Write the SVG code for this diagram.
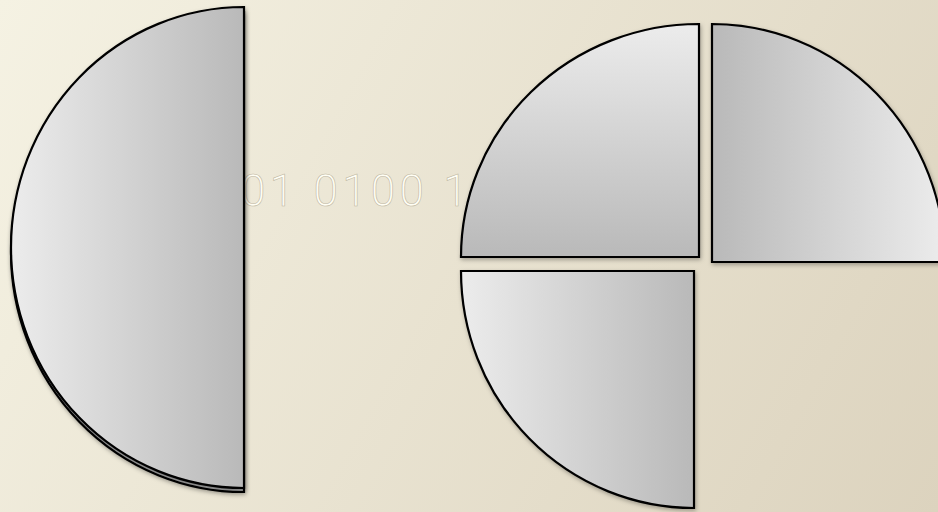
<svg xmlns="http://www.w3.org/2000/svg" width="938" height="512" viewBox="0 0 938 512">
  <defs>
    <linearGradient id="bg" x1="0" y1="0" x2="938" y2="512" gradientUnits="userSpaceOnUse">
      <stop offset="0" stop-color="#f5f2e3"/>
      <stop offset="1" stop-color="#dcd3be"/>
    </linearGradient>
    <linearGradient id="gLR" x1="0" y1="0" x2="1" y2="0">
      <stop offset="0" stop-color="#ececec"/>
      <stop offset="1" stop-color="#b9b9b9"/>
    </linearGradient>
    <linearGradient id="gRL" x1="0" y1="0" x2="1" y2="0">
      <stop offset="0" stop-color="#b9b9b9"/>
      <stop offset="1" stop-color="#ececec"/>
    </linearGradient>
    <linearGradient id="gTB" x1="0" y1="0" x2="0" y2="1">
      <stop offset="0" stop-color="#ececec"/>
      <stop offset="1" stop-color="#b9b9b9"/>
    </linearGradient>
    <filter id="sh" x="-10%" y="-10%" width="120%" height="120%">
      <feDropShadow dx="1" dy="2" stdDeviation="2" flood-color="#000" flood-opacity="0.3"/>
    </filter>
    <style>
      .shape { stroke: #000; stroke-width: 2.2; stroke-linejoin: miter; filter: url(#sh); }
      .code { font-family: Roboto, "Liberation Sans", sans-serif; font-weight: 300; font-size: 44px; letter-spacing: 4.3px; fill: #fffef4; stroke: #bdb5a0; stroke-width: 0.6; }
    </style>
  </defs>
  <rect x="0" y="0" width="938" height="512" fill="url(#bg)"/>
  <g id="code-text">
    <text class="code" x="241" y="206">01 0100 1</text>
  </g>
  <g id="half-disc">
    <path class="shape" d="M244,12 L244,492 A233,240 0 0 1 244,12 Z" fill="#a9a9a9"/>
    <path class="shape" d="M244,7 L244,488 A233,240.5 0 0 1 244,7 Z" fill="url(#gLR)"/>
  </g>
  <g id="quarter-top-left">
    <path class="shape" d="M699,257 L461,257 A238,233 0 0 1 699,24 Z" fill="url(#gTB)"/>
  </g>
  <g id="quarter-top-right">
    <path class="shape" d="M712,262 L712,24 A233,238 0 0 1 945,262 Z" fill="url(#gRL)"/>
  </g>
  <g id="quarter-bottom-left">
    <path class="shape" d="M461,271 L694,271 L694,508 A233,237 0 0 1 461,271 Z" fill="url(#gLR)"/>
  </g>
  <g id="connectors"></g>
</svg>
